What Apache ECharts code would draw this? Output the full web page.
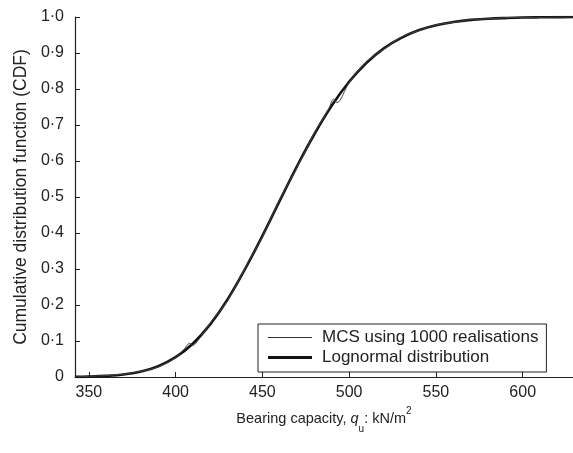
<!DOCTYPE html>
<html>
<head>
<meta charset="utf-8">
<script src="https://cdn.jsdelivr.net/npm/echarts@6/dist/echarts.min.js"></script>
<style>
html,body{margin:0;padding:0;background:#fff;}
#c{width:573px;height:453px;}
</style>
</head>
<body>
<div id="c"></div>
<script>
// Bearing capacity values (kN/m2)
var capacity = [342, 350, 360, 370, 380, 390, 400, 410, 420, 430, 440, 450, 460, 470, 480, 490, 500, 510, 520, 530, 540, 550, 560, 570, 580, 590, 600, 610, 620, 629];
// Lognormal distribution CDF
var lognormal = [0.0004, 0.001, 0.003, 0.007, 0.015, 0.030, 0.055, 0.093, 0.147, 0.216, 0.300, 0.392, 0.490, 0.586, 0.675, 0.754, 0.820, 0.873, 0.913, 0.942, 0.963, 0.977, 0.986, 0.992, 0.995, 0.997, 0.9985, 0.9992, 0.9996, 0.9998];
var mcsX = [342, 350, 360, 370, 380, 390, 400, 405, 408, 410, 413, 420, 430, 440, 450, 460, 470, 480, 488, 491, 493, 500, 510, 520, 530, 540, 550, 560, 570, 580, 590, 600, 610, 620, 629];
var mcsY = [0.000, 0.002, 0.004, 0.008, 0.016, 0.028, 0.054, 0.078, 0.094, 0.088, 0.102, 0.150, 0.213, 0.302, 0.390, 0.493, 0.583, 0.678, 0.742, 0.772, 0.762, 0.818, 0.875, 0.911, 0.944, 0.962, 0.978, 0.985, 0.993, 0.995, 0.998, 0.999, 0.999, 1.000, 1.000];
// Tick labels
var xTicks = [350, 400, 450, 500, 550, 600];
var yTicks = [0, 0.1, 0.2, 0.3, 0.4, 0.5, 0.6, 0.7, 0.8, 0.9, 1.0];
var seriesNames = ['MCS using 1000 realisations', 'Lognormal distribution'];

function pairs(xs, ys){ return xs.map(function(x,i){ return [x, ys[i]]; }); }

var chart = echarts.init(document.getElementById('c'), null, {renderer:'canvas'});
var font = 'Liberation Sans, Arial, sans-serif';
// line-shaped legend icons (tiny anchor squares fix the bounding box)
function lineIcon(th){
  var y0 = 7 - th/2, y1 = 7 + th/2;
  return 'path://M0,0H0.01V0.01H0Z M0,' + y0 + 'H44V' + y1 + 'H0Z M43.99,13.99H44V14H43.99Z';
}
chart.setOption({
  animation: false,
  backgroundColor: '#ffffff',
  grid: {left: 75, right: 0, top: 17, bottom: 76, containLabel: false, outerBoundsMode: 'none'},
  xAxis: {
    type: 'value', min: 342, max: 629,
    axisLine: {show: true, lineStyle: {color: '#222', width: 1.2}},
    axisTick: {show: true, inside: true, length: 5, customValues: xTicks, lineStyle: {color: '#222'}},
    axisLabel: {
      customValues: xTicks, color: '#222', fontFamily: font, fontSize: 16, margin: 8,
      formatter: function(v){ return xTicks.indexOf(v) >= 0 ? String(v) : ''; }
    },
    splitLine: {show: false},
    name: '{n|Bearing capacity, }{i|q}{s|u}{n|: kN/m}{p|2}',
    nameLocation: 'middle', nameGap: 28,
    nameTextStyle: {
      rich: {
        n: {fontFamily: font, fontSize: 14.5, color: '#222'},
        i: {fontFamily: font, fontSize: 14.5, fontStyle: 'italic', color: '#222'},
        s: {fontFamily: font, fontSize: 10, color: '#222', verticalAlign: 'bottom', padding: [0,0,-7,0]},
        p: {fontFamily: font, fontSize: 10, color: '#222', verticalAlign: 'top', padding: [-6,0,0,0]}
      }
    }
  },
  yAxis: {
    type: 'value', min: 0, max: 1, interval: 0.1,
    axisLine: {show: true, lineStyle: {color: '#222', width: 1.2}},
    axisTick: {show: true, inside: true, length: 5, lineStyle: {color: '#222'}},
    axisLabel: {
      color: '#222', fontFamily: font, fontSize: 16, margin: 11,
      formatter: function(v){ if (v === 0) return '0'; return v.toFixed(1).replace('.', '\u00b7'); }
    },
    splitLine: {show: false},
    name: 'Cumulative distribution function (CDF)',
    nameLocation: 'middle', nameGap: 44, nameRotate: 90,
    nameTextStyle: {fontFamily: font, fontSize: 17.5, color: '#222'}
  },
  legend: {
    show: true,
    orient: 'vertical', left: 258, top: 324,
    itemWidth: 44, itemHeight: 14, itemGap: 3,
    padding: [5, 8, 6, 10],
    borderColor: '#222', borderWidth: 1,
    backgroundColor: '#fff',
    textStyle: {fontFamily: font, fontSize: 17, color: '#222', padding: [0, 0, 0, 5]},
    data: [
      {name: seriesNames[0], icon: lineIcon(1.2), itemStyle: {color: '#333'}},
      {name: seriesNames[1], icon: lineIcon(3), itemStyle: {color: '#111'}}
    ]
  },
  series: [
    {
      name: seriesNames[0], type: 'line', showSymbol: false, symbol: 'none',
      data: pairs(mcsX, mcsY), smooth: 0.3,
      lineStyle: {color: '#444', width: 1}, itemStyle: {color: '#333'}, z: 3
    },
    {
      name: seriesNames[1], type: 'line', showSymbol: false, symbol: 'none',
      data: pairs(capacity, lognormal), smooth: 0.4,
      lineStyle: {color: '#111', width: 2.6}, itemStyle: {color: '#111'}, z: 2
    }
  ]
});
</script>
</body>
</html>
